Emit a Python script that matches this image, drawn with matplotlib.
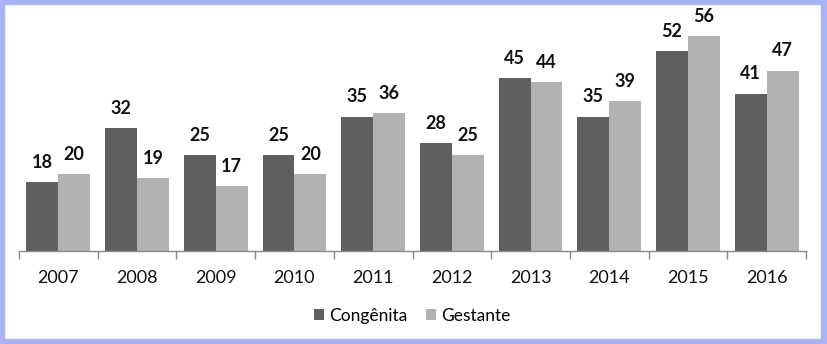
import matplotlib.pyplot as plt
from matplotlib.patches import Rectangle
import numpy as np

plt.rcParams['font.family'] = ['Lato', 'DejaVu Sans']

anos = ['2007', '2008', '2009', '2010', '2011', '2012', '2013', '2014', '2015', '2016']
congenita = [18, 32, 25, 25, 35, 28, 45, 35, 52, 41]
gestante = [20, 19, 17, 20, 36, 25, 44, 39, 56, 47]

COR_CONG = '#5f5f5f'
COR_GEST = '#b2b2b2'

fig = plt.figure(figsize=(8.27, 3.44), dpi=100)
ax = fig.add_axes([19 / 827, 93 / 344, 787 / 827, 230.4 / 344])

x = np.arange(len(anos))
w = 0.405
b1 = ax.bar(x - w / 2, congenita, w, color=COR_CONG, label='Congênita')
b2 = ax.bar(x + w / 2, gestante, w, color=COR_GEST, label='Gestante')

for barras in (b1, b2):
    for b in barras:
        ax.annotate(str(int(b.get_height())),
                    (b.get_x() + b.get_width() / 2, b.get_height()),
                    xytext=(0, 8), textcoords='offset points',
                    ha='center', va='bottom', fontsize=13,
                    fontweight='bold', color='#111111')

ax.set_xlim(-0.5, len(anos) - 0.5)
ax.set_ylim(0, 60)
ax.set_yticks([])
for s in ('top', 'right', 'left'):
    ax.spines[s].set_visible(False)
ax.spines['bottom'].set_color('#8a8a8a')
ax.spines['bottom'].set_linewidth(1)

ax.set_xticks(x)
ax.set_xticklabels(anos, fontsize=13, color='#111111')
ax.tick_params(axis='x', which='major', length=0, pad=14)
ax.set_xticks(np.arange(-0.5, len(anos)), minor=True)
ax.tick_params(axis='x', which='minor', length=6, color='#8a8a8a', width=1)

ax.legend(loc='center', bbox_to_anchor=(0.5, -0.28), ncol=2, frameon=False,
          fontsize=12.5, handlelength=0.55, handleheight=0.55,
          handletextpad=0.3, columnspacing=1.1)

# moldura azul
azul = '#aab4f5'
fig.patches.extend([
    Rectangle((0, 1 - 4 / 344), 1, 4 / 344, transform=fig.transFigure, color=azul, zorder=10),
    Rectangle((0, 0), 1, 5 / 344, transform=fig.transFigure, color=azul, zorder=10),
    Rectangle((0, 0), 4 / 827, 1, transform=fig.transFigure, color=azul, zorder=10),
    Rectangle((1 - 6 / 827, 0), 6 / 827, 1, transform=fig.transFigure, color=azul, zorder=10),
])

fig.savefig('out.png', dpi=100)
